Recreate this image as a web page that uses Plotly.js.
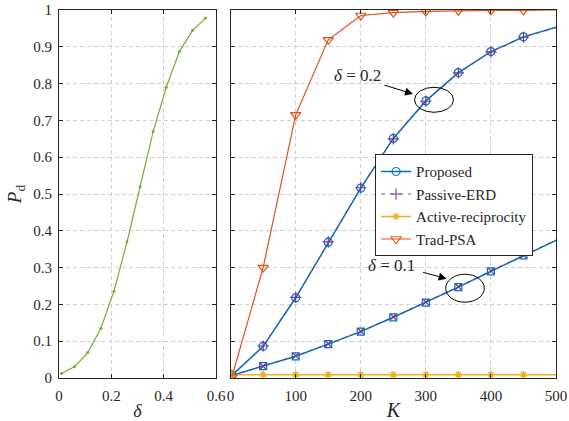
<!DOCTYPE html>
<html>
<head>
<meta charset="utf-8">
<script src="https://cdn.plot.ly/plotly-3.0.1.min.js"></script>
<style>html,body{margin:0;padding:0;background:#fff;}#chart{width:569px;height:421px;}</style>
</head>
<body>
<div id="chart"></div>
<script>
// Left panel: Pd vs delta
const delta = [0.01, 0.06, 0.11, 0.16, 0.21, 0.26, 0.31, 0.36, 0.41, 0.46, 0.51, 0.56];
const pdDelta = [0.012, 0.031, 0.069, 0.135, 0.236, 0.37, 0.52, 0.67, 0.79, 0.887, 0.944, 0.978];

// Right panel: Pd vs K
const K = [2, 50, 100, 150, 200, 250, 300, 350, 400, 450, 500];
const proposedD02 = [0.007, 0.086, 0.218, 0.369, 0.516, 0.651, 0.753, 0.830, 0.887, 0.927, 0.953];
const passiveD02  = [0.007, 0.087, 0.219, 0.370, 0.517, 0.650, 0.752, 0.829, 0.886, 0.926, 0.952];
const proposedD01 = [0.007, 0.032, 0.059, 0.092, 0.126, 0.165, 0.205, 0.247, 0.290, 0.333, 0.374];
const passiveD01  = [0.007, 0.032, 0.060, 0.093, 0.127, 0.166, 0.206, 0.248, 0.291, 0.334, 0.375];
const activeRecip = [0.009, 0.009, 0.009, 0.009, 0.009, 0.009, 0.009, 0.009, 0.009, 0.009, 0.009];
const tradPSA     = [0.003, 0.300, 0.715, 0.919, 0.985, 0.993, 0.996, 0.998, 0.999, 0.999, 1.000];

const legendNames = ['Proposed', 'Passive-ERD', 'Active-reciprocity', 'Trad-PSA'];
const annoTexts = ['<i>δ</i> = 0.2', '<i>δ</i> = 0.1'];

const FONT = 'Liberation Serif, Times New Roman, serif';
const BLUE = '#0072BD', PURPLE = '#7E2F8E', YELLOW = '#EDB120', ORANGE = '#D95319', GREEN = '#77AC30';
// hide marker on final point (line continues to K=500 without marker)
const mOp = K.map((k, i) => i === K.length - 1 ? 0 : 1);

const traces = [
  {x: delta, y: pdDelta, xaxis: 'x', yaxis: 'y', mode: 'lines+markers', showlegend: false,
   line: {color: GREEN, width: 1.2}, marker: {color: GREEN, size: 3}},
  // delta = 0.1 curves
  {x: K, y: proposedD01, xaxis: 'x2', yaxis: 'y2', mode: 'lines+markers', showlegend: false,
   line: {color: BLUE, width: 1.5}, marker: {symbol: 'square-open', size: 7, color: BLUE, opacity: mOp, line: {width: 1.2, color: BLUE}}},
  {x: K, y: passiveD01, xaxis: 'x2', yaxis: 'y2', mode: 'lines+markers', showlegend: false,
   line: {color: PURPLE, width: 0.9, dash: '4px,5px'}, marker: {symbol: 'x-thin-open', size: 6, color: PURPLE, opacity: mOp, line: {width: 1.2, color: PURPLE}}},
  // delta = 0.2 curves (legend)
  {x: K, y: proposedD02, name: legendNames[0], xaxis: 'x2', yaxis: 'y2', mode: 'lines+markers',
   line: {color: BLUE, width: 1.5}, marker: {symbol: 'circle-open', size: 8, color: BLUE, opacity: mOp, line: {width: 1.2, color: BLUE}}},
  {x: K, y: passiveD02, name: legendNames[1], xaxis: 'x2', yaxis: 'y2', mode: 'lines+markers',
   line: {color: PURPLE, width: 0.9, dash: '4px,5px'}, marker: {symbol: 'cross-thin-open', size: 8, color: PURPLE, opacity: mOp, line: {width: 1.2, color: PURPLE}}},
  {x: K, y: activeRecip, name: legendNames[2], xaxis: 'x2', yaxis: 'y2', mode: 'lines+markers',
   line: {color: YELLOW, width: 1.5}, marker: {symbol: 'asterisk-open', size: 6, color: YELLOW, opacity: mOp, line: {width: 1.5, color: YELLOW}}},
  {x: K, y: tradPSA, name: legendNames[3], xaxis: 'x2', yaxis: 'y2', mode: 'lines+markers',
   line: {color: ORANGE, width: 1.2}, marker: {symbol: 'triangle-down-open', size: 9, color: ORANGE, opacity: mOp, line: {width: 1.2, color: ORANGE}}}
];

const axCommon = {
  showline: true, linecolor: '#262626', linewidth: 1, mirror: 'ticks',
  ticks: 'inside', ticklen: 4, tickcolor: '#262626', tickwidth: 1,
  showgrid: true, gridcolor: '#cfcfcf', griddash: '4px,3px', gridwidth: 1,
  zeroline: false, tickfont: {family: FONT, size: 15, color: '#262626'}
};

const layout = {
  width: 569, height: 421,
  margin: {l: 59, r: 13, t: 10, b: 43},
  paper_bgcolor: '#ffffff', plot_bgcolor: '#ffffff',
  font: {family: FONT, color: '#262626'},
  xaxis: Object.assign({}, axCommon, {domain: [0, 0.3159], range: [0, 0.6], tick0: 0, dtick: 0.2, anchor: 'y',
    ticklabelstandoff: 4,
    title: {text: '<i>δ</i>', font: {family: FONT, size: 18, color: '#262626'}, standoff: 1}}),
  yaxis: Object.assign({}, axCommon, {domain: [0, 1], range: [0, 1], tick0: 0, dtick: 0.1, anchor: 'x',
    ticklabelstandoff: 3,
    title: {text: '<i>P</i><sub>d</sub>', font: {family: FONT, size: 19, color: '#262626'}, standoff: 6}}),
  xaxis2: Object.assign({}, axCommon, {domain: [0.3453, 1], range: [0, 500], tick0: 0, dtick: 100, anchor: 'y2',
    ticklabelstandoff: 4,
    title: {text: '<i>K</i>', font: {family: FONT, size: 20, color: '#262626'}, standoff: 2}}),
  yaxis2: Object.assign({}, axCommon, {domain: [0, 1], range: [0, 1], tick0: 0, dtick: 0.1, anchor: 'x2', showticklabels: false}),
  showlegend: true,
  legend: {x: 0.636, y: 0.608, xanchor: 'left', yanchor: 'top', bgcolor: '#ffffff',
    bordercolor: '#262626', borderwidth: 1, font: {family: FONT, size: 15, color: '#262626'},
    tracegroupgap: 0, itemwidth: 30},
  annotations: [
    {xref: 'x2', yref: 'y2', x: 195.6, y: 0.821, text: annoTexts[0], showarrow: false, font: {family: FONT, size: 17, color: '#262626'}},
    {xref: 'x2', yref: 'y2', x: 280.3, y: 0.772, ax: 234.2, ay: 0.797, axref: 'x2', ayref: 'y2', text: '', showarrow: true, arrowhead: 2, arrowsize: 1.6, arrowwidth: 1, arrowcolor: '#000'},
    {xref: 'x2', yref: 'y2', x: 247.5, y: 0.306, text: annoTexts[1], showarrow: false, font: {family: FONT, size: 17, color: '#262626'}},
    {xref: 'x2', yref: 'y2', x: 332, y: 0.270, ax: 293.6, ay: 0.288, axref: 'x2', ayref: 'y2', text: '', showarrow: true, arrowhead: 2, arrowsize: 1.6, arrowwidth: 1, arrowcolor: '#000'}
  ],
  shapes: [
    {type: 'circle', xref: 'x2', yref: 'y2', x0: 282.6, x1: 342.5, y0: 0.722, y1: 0.790, line: {color: '#000', width: 1}},
    {type: 'circle', xref: 'x2', yref: 'y2', x0: 330.5, x1: 389.8, y0: 0.206, y1: 0.282, line: {color: '#000', width: 1}}
  ]
};

Plotly.newPlot('chart', traces, layout, {staticPlot: true, displayModeBar: false});
</script>
</body>
</html>
